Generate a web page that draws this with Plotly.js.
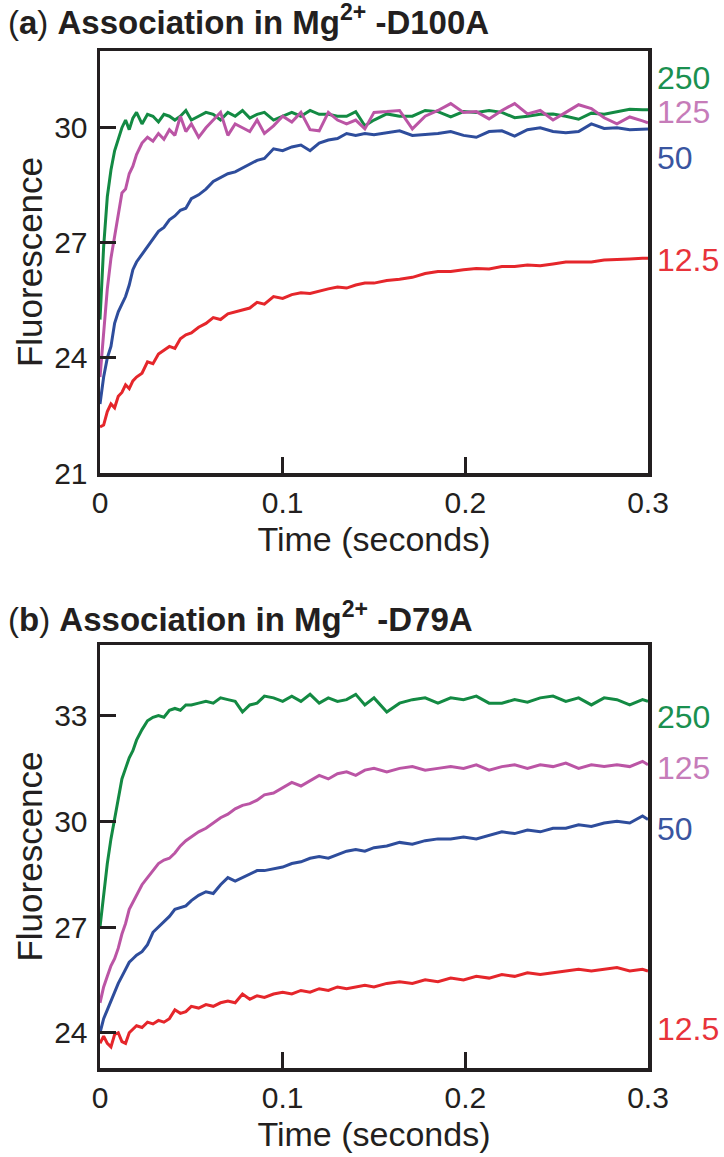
<!DOCTYPE html>
<html>
<head>
<meta charset="utf-8">
<script src="https://cdn.plot.ly/plotly-3.0.1.min.js"></script>
<style>
  html, body { margin: 0; padding: 0; background: #ffffff; }
  #chart { width: 724px; height: 1157px; }
</style>
</head>
<body>
<div id="chart"></div>
<script>
// ---------- data ----------
var timeA = [0, 0.002, 0.004, 0.006, 0.008, 0.010, 0.012, 0.014, 0.016, 0.018, 0.020, 0.023, 0.026, 0.029, 0.032, 0.035, 0.038, 0.041, 0.044, 0.047, 0.050, 0.054, 0.058, 0.062, 0.066, 0.070, 0.074, 0.078, 0.082, 0.086, 0.090, 0.095, 0.100, 0.105, 0.110, 0.115, 0.120, 0.125, 0.130, 0.135, 0.140, 0.145, 0.150, 0.157, 0.164, 0.171, 0.178, 0.185, 0.192, 0.199, 0.206, 0.213, 0.220, 0.227, 0.234, 0.241, 0.248, 0.255, 0.262, 0.269, 0.276, 0.283, 0.290, 0.297, 0.300];
var timeB = timeA;

var a250 = [25.0, 26.9, 28.2, 28.9, 29.4, 29.7, 30.0, 30.2, 29.95, 30.25, 30.4, 30.1, 30.35, 30.3, 30.15, 30.35, 30.3, 30.2, 30.3, 30.45, 30.2, 30.3, 30.4, 30.35, 30.2, 30.4, 30.3, 30.45, 30.25, 30.35, 30.4, 30.2, 30.3, 30.4, 30.3, 30.45, 30.35, 30.35, 30.3, 30.3, 30.42, 30.05, 30.2, 30.36, 30.3, 30.3, 30.45, 30.42, 30.28, 30.42, 30.4, 30.45, 30.4, 30.26, 30.3, 30.35, 30.36, 30.3, 30.22, 30.38, 30.35, 30.42, 30.48, 30.47, 30.47];
var a125 = [23.5, 24.6, 25.8, 26.6, 27.2, 27.7, 28.3, 28.4, 28.8, 29.0, 29.3, 29.6, 29.75, 29.65, 29.85, 29.7, 29.95, 29.8, 30.3, 29.9, 30.1, 29.75, 30.0, 30.2, 30.4, 29.8, 30.1, 30.0, 29.9, 30.2, 29.85, 30.05, 30.3, 30.15, 30.4, 29.95, 29.92, 30.4, 30.2, 30.1, 30.2, 29.97, 30.4, 30.42, 30.45, 29.97, 30.3, 30.45, 30.63, 30.4, 30.42, 30.23, 30.45, 30.63, 30.36, 30.45, 30.2, 30.4, 30.6, 30.5, 30.26, 30.1, 30.28, 30.18, 30.13];
var a50 = [22.8, 23.5, 24.0, 24.3, 24.9, 25.2, 25.4, 25.6, 25.9, 26.3, 26.5, 26.7, 26.9, 27.1, 27.3, 27.4, 27.6, 27.7, 27.85, 27.9, 28.15, 28.25, 28.4, 28.6, 28.7, 28.8, 28.85, 28.95, 29.05, 29.15, 29.2, 29.45, 29.4, 29.5, 29.55, 29.4, 29.6, 29.68, 29.72, 29.85, 29.8, 29.85, 29.82, 29.87, 29.92, 29.8, 29.82, 29.85, 29.9, 29.8, 29.75, 29.9, 29.92, 29.78, 29.95, 30.0, 29.9, 29.87, 29.9, 30.1, 29.98, 30.0, 29.95, 29.97, 29.97];
var a12_5 = [22.2, 22.25, 22.6, 22.8, 22.7, 23.0, 23.1, 23.3, 23.2, 23.4, 23.5, 23.6, 23.9, 23.85, 24.1, 24.2, 24.3, 24.25, 24.5, 24.6, 24.65, 24.8, 24.9, 25.05, 25.0, 25.15, 25.2, 25.25, 25.3, 25.45, 25.4, 25.6, 25.55, 25.65, 25.7, 25.68, 25.75, 25.8, 25.85, 25.82, 25.9, 25.95, 25.95, 26.02, 26.05, 26.1, 26.2, 26.25, 26.25, 26.3, 26.33, 26.32, 26.38, 26.38, 26.42, 26.4, 26.45, 26.5, 26.5, 26.5, 26.55, 26.56, 26.58, 26.6, 26.6];

var b250 = [27.0, 28.0, 28.8, 29.5, 30.1, 30.6, 31.2, 31.5, 31.8, 32.0, 32.3, 32.6, 32.85, 32.95, 33.0, 32.95, 33.15, 33.2, 33.15, 33.3, 33.3, 33.35, 33.4, 33.35, 33.5, 33.45, 33.4, 33.1, 33.3, 33.35, 33.55, 33.5, 33.4, 33.55, 33.4, 33.6, 33.35, 33.5, 33.4, 33.45, 33.6, 33.3, 33.5, 33.1, 33.35, 33.45, 33.5, 33.35, 33.5, 33.45, 33.55, 33.35, 33.35, 33.45, 33.38, 33.5, 33.55, 33.4, 33.5, 33.3, 33.5, 33.45, 33.3, 33.45, 33.4];
var b125 = [24.85, 25.3, 25.6, 25.9, 26.1, 26.4, 26.8, 27.1, 27.5, 27.7, 27.9, 28.2, 28.4, 28.6, 28.8, 28.9, 28.95, 29.1, 29.3, 29.45, 29.55, 29.7, 29.8, 29.95, 30.1, 30.2, 30.35, 30.45, 30.5, 30.6, 30.75, 30.8, 30.95, 31.1, 31.0, 31.15, 31.3, 31.2, 31.35, 31.4, 31.3, 31.45, 31.5, 31.4, 31.5, 31.55, 31.45, 31.5, 31.55, 31.5, 31.6, 31.45, 31.55, 31.6, 31.5, 31.6, 31.55, 31.65, 31.5, 31.6, 31.55, 31.6, 31.55, 31.7, 31.6];
var b50 = [24.0, 24.4, 24.65, 24.9, 25.2, 25.4, 25.6, 25.8, 26.0, 26.1, 26.2, 26.3, 26.5, 26.85, 27.0, 27.15, 27.3, 27.5, 27.55, 27.6, 27.75, 27.9, 28.0, 27.95, 28.2, 28.4, 28.3, 28.4, 28.5, 28.6, 28.6, 28.65, 28.7, 28.8, 28.85, 28.95, 29.0, 28.95, 29.05, 29.15, 29.2, 29.15, 29.25, 29.3, 29.4, 29.35, 29.45, 29.5, 29.5, 29.55, 29.5, 29.6, 29.7, 29.65, 29.75, 29.7, 29.8, 29.8, 29.9, 29.85, 29.95, 30.0, 29.95, 30.15, 30.05];
var b12_5 = [23.7, 23.9, 23.7, 23.6, 23.95, 24.0, 23.75, 23.7, 24.0, 24.1, 24.2, 24.15, 24.3, 24.25, 24.35, 24.3, 24.4, 24.65, 24.55, 24.6, 24.75, 24.7, 24.8, 24.75, 24.85, 24.9, 24.85, 25.1, 24.95, 25.05, 25.0, 25.1, 25.15, 25.1, 25.2, 25.15, 25.25, 25.2, 25.3, 25.25, 25.3, 25.35, 25.3, 25.4, 25.45, 25.4, 25.5, 25.45, 25.55, 25.5, 25.6, 25.55, 25.65, 25.6, 25.7, 25.65, 25.7, 25.75, 25.8, 25.75, 25.8, 25.85, 25.75, 25.8, 25.75];

var concLabels = ["250", "125", "50", "12.5"];
var labelYA = [31.3, 30.4, 29.22, 26.54];
var labelYB = [32.95, 31.5, 29.78, 24.12];
var xTicks = [0, 0.1, 0.2, 0.3];
var xTickText = ["0", "0.1", "0.2", "0.3"];
var yTicksA = [21, 24, 27, 30];
var yTicksB = [24, 27, 30, 33];
var titleA = "(<b>a</b>) <b>Association in Mg<sup>2+</sup> -D100A</b>";
var titleB = "(<b>b</b>) <b>Association in Mg<sup>2+</sup> -D79A</b>";

// ---------- styles ----------
var lineColors = ["#138a43", "#bb55a5", "#2e4d9c", "#e5262b"];
var labelColors = ["#1a9050", "#c67cb9", "#3a55a0", "#e8333a"];
var ink = "#231f20";
var FONT = "Liberation Sans, Arial, Helvetica, sans-serif";
var W = 724, H = 1157;

function tr(x, y, c, xa, ya) {
  return {x: x, y: y, type: "scatter", mode: "lines", xaxis: xa, yaxis: ya,
          line: {color: c, width: 3}, hoverinfo: "skip"};
}
var data = [
  tr(timeA, a250, lineColors[0], "x", "y"),
  tr(timeA, a125, lineColors[1], "x", "y"),
  tr(timeA, a50, lineColors[2], "x", "y"),
  tr(timeA, a12_5, lineColors[3], "x", "y"),
  tr(timeB, b250, lineColors[0], "x2", "y2"),
  tr(timeB, b125, lineColors[1], "x2", "y2"),
  tr(timeB, b50, lineColors[2], "x2", "y2"),
  tr(timeB, b12_5, lineColors[3], "x2", "y2")
];

function xax(anchor) {
  return {
    domain: [100 / W, 648 / W], anchor: anchor, range: [0, 0.3],
    showline: true, mirror: true, linecolor: ink, linewidth: 3.5,
    ticks: "inside", ticklen: 16, tickwidth: 3, tickcolor: ink,
    tickvals: xTicks, ticktext: xTickText, showgrid: false, zeroline: false,
    tickfont: {family: FONT, size: 30, color: ink},
    title: {text: "Time (seconds)", font: {family: FONT, size: 34, color: ink}, standoff: 10}
  };
}
function yax(dom, range, ticks, anchor) {
  return {
    domain: dom, anchor: anchor, range: range,
    showline: true, mirror: true, linecolor: ink, linewidth: 3.5,
    ticks: "inside", ticklen: 16, tickwidth: 3, tickcolor: ink,
    tickvals: ticks, showgrid: false, zeroline: false,
    tickfont: {family: FONT, size: 30, color: ink},
    ticklabelstandoff: 3,
    title: {text: "Fluorescence", font: {family: FONT, size: 35, color: ink}, standoff: 2}
  };
}

var annotations = [];
function addLabels(vals, yref) {
  for (var i = 0; i < concLabels.length; i++) {
    annotations.push({xref: "paper", yref: yref, x: 655 / W, y: vals[i], xanchor: "left", yanchor: "middle",
      text: concLabels[i], showarrow: false, font: {family: FONT, size: 32, color: labelColors[i]}});
  }
}
addLabels(labelYA, "y");
addLabels(labelYB, "y2");
annotations.push({xref: "paper", yref: "paper", x: 6 / W, y: 1 - 20 / H, xanchor: "left", yanchor: "middle",
  text: titleA, showarrow: false, font: {family: FONT, size: 33, color: ink}});
annotations.push({xref: "paper", yref: "paper", x: 6 / W, y: 1 - 617 / H, xanchor: "left", yanchor: "middle",
  text: titleB, showarrow: false, font: {family: FONT, size: 33, color: ink}});

var layout = {
  width: W, height: H,
  margin: {l: 0, r: 0, t: 0, b: 0},
  paper_bgcolor: "#ffffff", plot_bgcolor: "#ffffff",
  showlegend: false, hovermode: false,
  xaxis: xax("y"),
  yaxis: yax([1 - 473 / H, 1 - 51 / H], [21, 32], yTicksA, "x"),
  xaxis2: xax("y2"),
  yaxis2: yax([1 - 1068 / H, 1 - 645 / H], [23, 35], yTicksB, "x2"),
  annotations: annotations
};

Plotly.newPlot("chart", data, layout, {staticPlot: true, displayModeBar: false});
</script>
</body>
</html>
